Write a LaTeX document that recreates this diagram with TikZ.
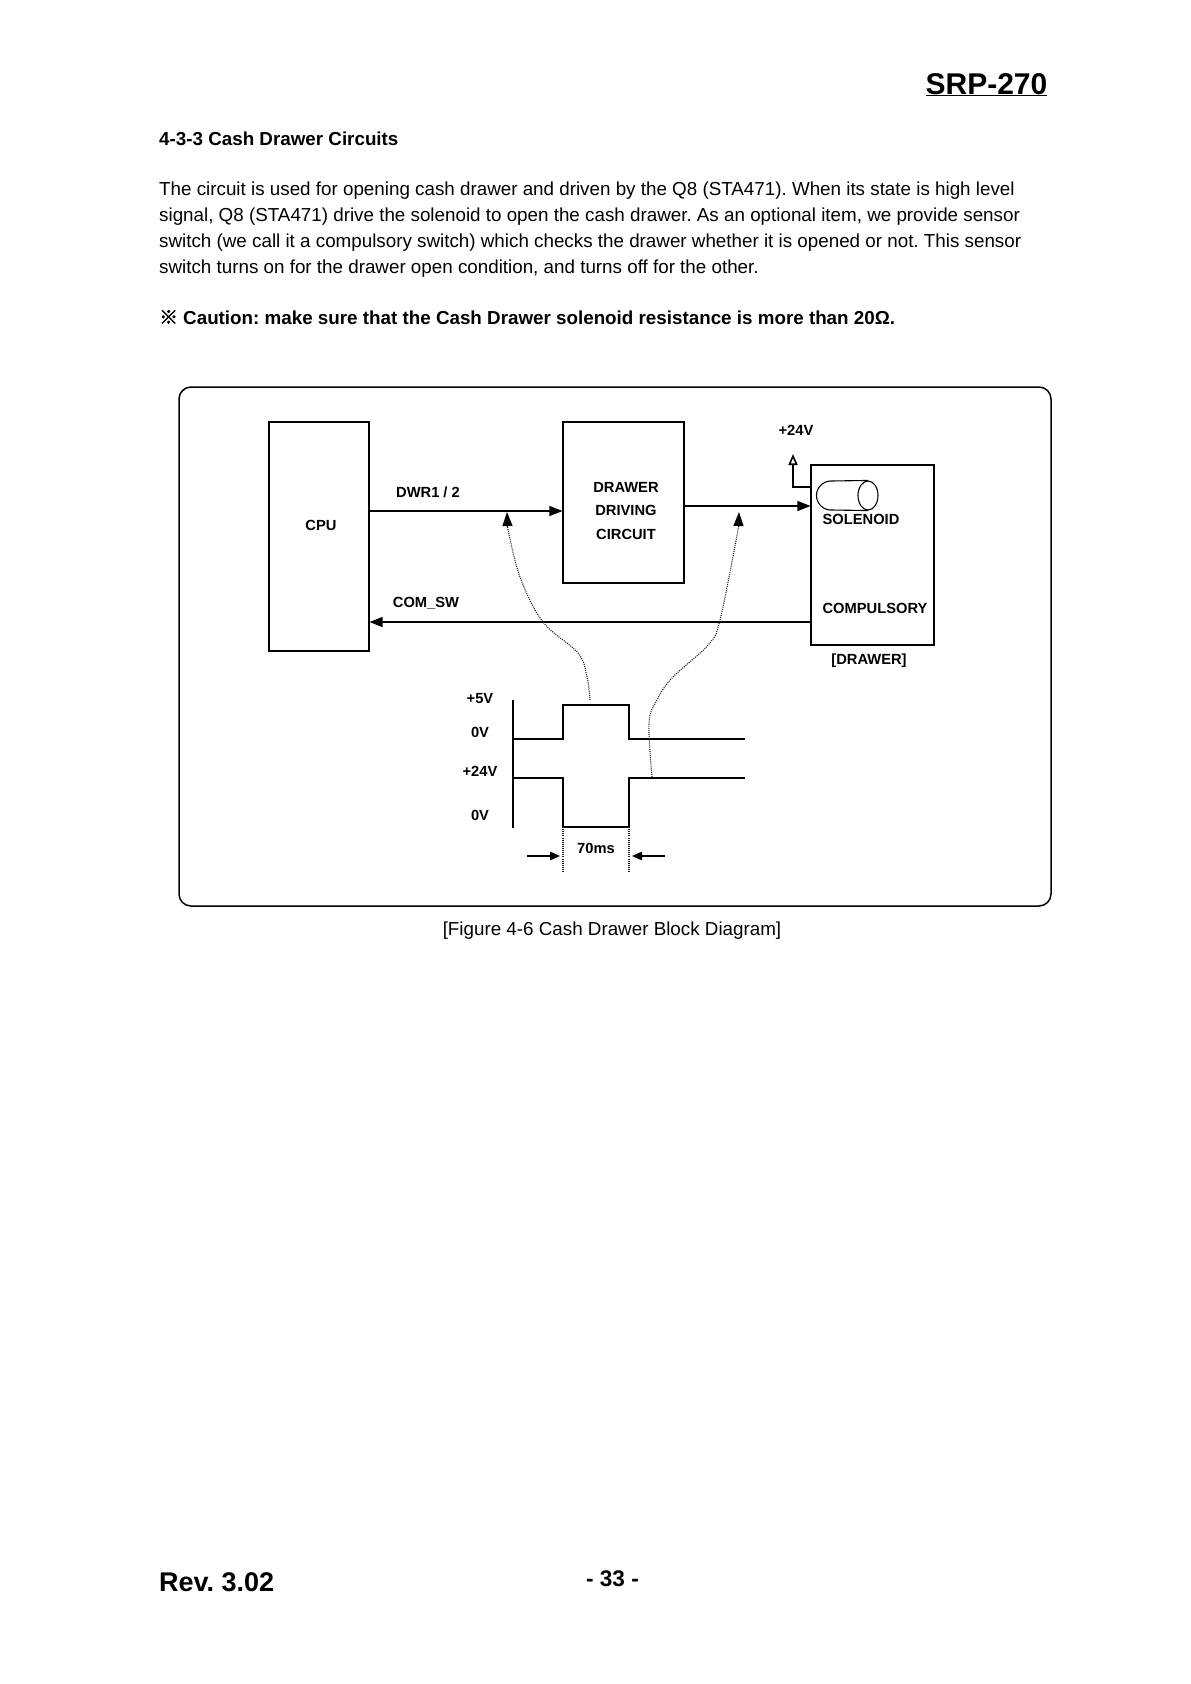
\documentclass[tikz,border=0pt]{standalone}
\usepackage{fontspec}
\setmainfont{Liberation Sans}
\newfontfamily\cjk[FakeBold=2]{Noto Sans CJK KR}
\usetikzlibrary{arrows.meta,shapes.geometric}
\tikzset{
  blockbox/.style={draw, line width=1.1pt, inner sep=0pt},
  lab/.style={font=\fontsize{14.7}{16}\selectfont\bfseries, inner sep=0pt},
  sigline/.style={line width=1.2pt, -{Triangle[length=13pt,width=10pt]}},
  dimline/.style={line width=1.1pt, -{Triangle[length=10pt,width=8.5pt]}},
  trace/.style={line width=1.2pt},
  dots/.style={line width=1.1pt, black!90, dash pattern=on 1pt off 1.1pt},
  leadtip/.style={line width=1pt, -{Triangle[length=14pt,width=10pt]}},
  para/.style={anchor=base west, inner sep=0pt, align=left},
}
\begin{document}
\frenchspacing
\begin{tikzpicture}[x=1pt,y=-1pt]
\useasboundingbox (0,0) rectangle (1191,1684);
% page text
\node[para, anchor=base east, font=\fontsize{30}{32}\selectfont\bfseries] (title) at (1047.5,94) {\underline{SRP-270}};
\node[para, font=\fontsize{18.8}{21}\selectfont\bfseries] (head) at (159,145) {4-3-3 Cash Drawer Circuits};
\node[para, font=\fontsize{18.8}{25.7}\selectfont] (body) at (159,273) {The circuit is used for opening cash drawer and driven by the Q8 (STA471). When its state is high level\\signal, Q8 (STA471) drive the solenoid to open the cash drawer. As an optional item, we provide sensor\\switch (we call it a compulsory switch) which checks the drawer whether it is opened or not. This sensor\\switch turns on for the drawer open condition, and turns off for the other.};
\node[para, font=\fontsize{18.8}{21}\selectfont\bfseries] (caution) at (159,324) {{\cjk ※} Caution: make sure that the Cash Drawer solenoid resistance is more than 20Ω.};
\node[inner sep=0pt, font=\fontsize{18.8}{21}\selectfont] (caption) at (612,931) {[Figure 4-6 Cash Drawer Block Diagram]};
\node[para, font=\fontsize{27}{29}\selectfont\bfseries] (rev) at (159,1591) {Rev. 3.02};
\node[inner sep=0pt, font=\fontsize{22.6}{24}\selectfont\bfseries] (page) at (612.5,1579) {- 33 -};
% frame and blocks
\draw[line width=1.5pt, rounded corners=12pt] (179,387) rectangle (1051,906);
\node[blockbox, minimum width=100pt, minimum height=229pt] (cpu) at (319,536.5) {};
\node[blockbox, minimum width=121pt, minimum height=161pt] (ddc) at (623.5,502.5) {};
\node[blockbox, minimum width=123pt, minimum height=180pt] (drw) at (872.5,555) {};
\node[lab] (cpulab) at (321,525) {CPU};
\node[lab] (ddc1) at (626,487) {DRAWER};
\node[lab] (ddc2) at (626,510) {DRIVING};
\node[lab] (ddc3) at (626,534) {CIRCUIT};
\node[lab] (dwrlab) at (428,492) {DWR1 / 2};
\node[lab] (comlab) at (426,603) {COM\_SW};
\node[lab] (vlab) at (796,430) {+24V};
\node[lab] (sollab) at (861,519) {SOLENOID};
\node[lab] (swlab) at (875,608) {COMPULSORY};
\node[lab] (drwlab) at (869,661) {[DRAWER]};
% connectors
\coordinate (dwr) at (0,511);
\coordinate (drv) at (0,506);
\coordinate (com) at (0,622);
\coordinate (hook) at (0,487);
\coordinate (vtip) at (793,454);
\draw[sigline] (cpu.east |- dwr) -- (ddc.west |- dwr);
\draw[sigline] (ddc.east |- drv) -- (drw.west |- drv);
\draw[sigline] (drw.west |- com) -- (cpu.east |- com);
\draw[line width=1.6pt, -{Triangle[open,length=11pt,width=9pt]}] (drw.west |- hook) -| (vtip);
% solenoid
\node[draw, ellipse, line width=1.1pt, minimum width=20pt, minimum height=29pt, inner sep=0pt] (coil) at (868,495.5) {};
\draw[line width=1.1pt] (coil.north) -- (831,481) arc[start angle=270,end angle=90,radius=14.5] -- (coil.south);
% waveforms
\draw[trace] (513,700) -- (513,828);
\draw[trace] (513,739) -- (563,739) -- (563,705) -- (629,705) -- (629,739) -- (745,739);
\draw[trace] (513,778) -- (563,778) -- (563,827) -- (629,827) -- (629,778) -- (745,778);
\node[lab] (v1) at (480,699) {+5V};
\node[lab] (v2) at (480,732) {0V};
\node[lab] (v3) at (480,771) {+24V};
\node[lab] (v4) at (480,815) {0V};
\node[lab] (ms) at (596,848) {70ms};
% timing marks
\coordinate (ta) at (563,827);
\coordinate (tb) at (629,827);
\coordinate (tc) at (563,872);
\coordinate (td) at (629,872);
\coordinate (da) at (527,856);
\coordinate (db) at (560,856);
\coordinate (dc) at (665,856);
\coordinate (dd) at (632,856);
\draw[dots] (ta) -- (tc);
\draw[dots] (tb) -- (td);
\draw[dimline] (da) -- (db);
\draw[dimline] (dc) -- (dd);
% dotted leaders
\coordinate (la) at (507.5,527);
\coordinate (lb) at (507,512);
\coordinate (ra) at (738.5,527);
\coordinate (rb) at (739,512);
\draw[dots] plot[smooth, tension=.6] coordinates {(590,700) (587,677) (578,653) (543,622) (520,577) (la)};
\draw[dots] plot[smooth, tension=.6] coordinates {(652,777) (649,723) (657,700) (672,678) (708,645) (720,620) (ra)};
\draw[leadtip] (la) -- (lb);
\draw[leadtip] (ra) -- (rb);
\end{tikzpicture}
\end{document}
